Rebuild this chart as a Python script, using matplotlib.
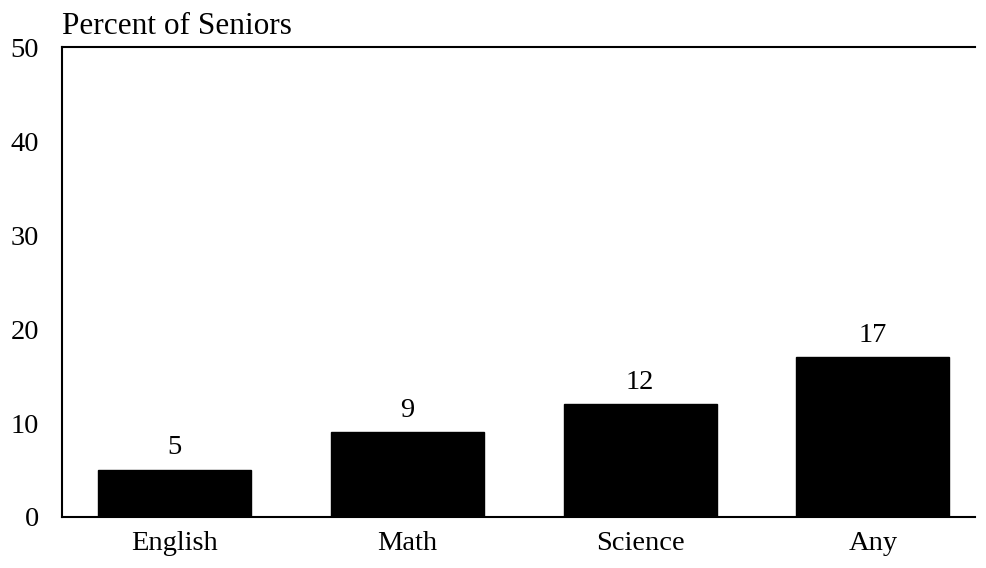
import matplotlib
matplotlib.use("Agg")
import matplotlib.pyplot as plt

categories = ["English", "Math", "Science", "Any"]
values = [5, 9, 12, 17]
yticks = [0, 10, 20, 30, 40, 50]

plt.rcParams['font.family'] = ['Liberation Serif', 'DejaVu Serif']

fig = plt.figure(figsize=(9.87, 5.68), dpi=100)
ax = fig.add_axes([0.0628, 0.0898, 0.988 - 0.0628, 0.917 - 0.0898])

x = list(range(len(categories)))
ax.bar(x, values, width=0.657, color='black', edgecolor='black')

ax.set_xlim(-0.485, 3.44)
ax.set_ylim(0, 50)
ax.set_yticks(yticks)
ax.set_yticklabels([str(t) for t in yticks], fontsize=20.5)
ax.set_xticks(x)
ax.set_xticklabels(categories, fontsize=20.5)
ax.tick_params(axis='both', length=0)
ax.tick_params(axis='y', pad=16.5)
ax.tick_params(axis='x', pad=10)

for s in ['left', 'top', 'bottom']:
    ax.spines[s].set_linewidth(1.5)
ax.spines['right'].set_visible(False)

for xi, v in zip(x, values):
    ax.annotate(str(v), (xi, v), xytext=(0, 7), textcoords='offset points',
                ha='center', va='bottom', fontsize=20.5)

ax.text(0, 1.0277, "Percent of Seniors", transform=ax.transAxes,
        ha='left', va='baseline', fontsize=22.5)

fig.savefig("out.png", dpi=100)
